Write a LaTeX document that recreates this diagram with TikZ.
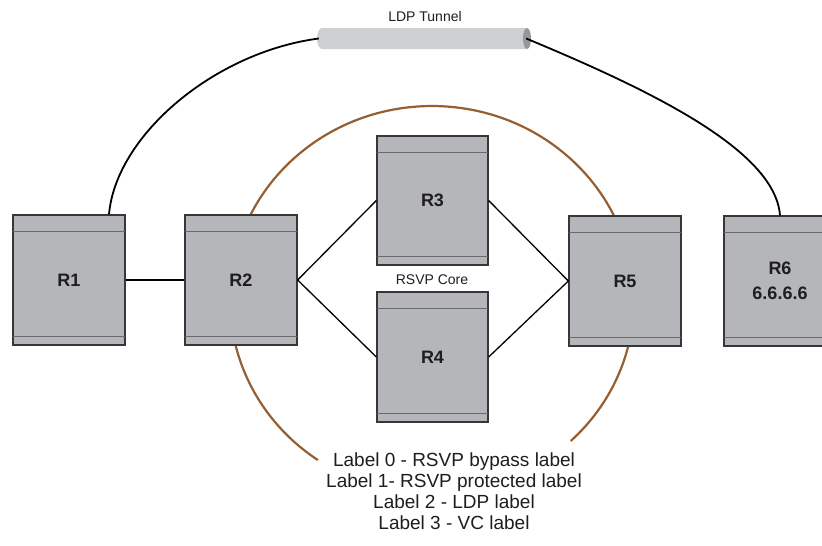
\documentclass[tikz,border=0pt]{standalone}
\usepackage{fontspec}
\setmainfont{Liberation Sans}
\definecolor{boxfill}{RGB}{180,182,186}
\definecolor{boxline}{RGB}{55,55,58}
\definecolor{bandline}{RGB}{105,106,110}
\definecolor{ringbrown}{RGB}{150,95,50}
\definecolor{tubefill}{RGB}{206,207,211}
\definecolor{tubeend}{RGB}{150,151,156}
\definecolor{txt}{RGB}{30,30,30}
\tikzset{
  router/.style={draw=boxline, fill=boxfill, line width=1.3pt,
    minimum width=112pt, minimum height=130pt, inner sep=0pt,
    font=\bfseries\fontsize{18}{25}\selectfont, text=txt, align=center},
  link/.style={draw=black, line width=1.3pt},
  tunnelline/.style={draw=black, line width=1.8pt},
  ring/.style={draw=ringbrown, line width=2.2pt},
  smalltext/.style={font=\fontsize{14}{16}\selectfont, text=txt},
  legend/.style={font=\fontsize{19}{21}\selectfont, text=txt, align=center}
}
\begin{document}
\begin{tikzpicture}[x=1pt,y=1pt]
\useasboundingbox (0,0) rectangle (822,-546);
\clip (0,0) rectangle (822,-546);
\fill[white] (0,0) rectangle (822,-546);

% brown RSVP ring (behind routers)
\draw[ring] (432,-300) ++(-46.6:202 and 194)
  arc[start angle=-46.6, end angle=235.6, x radius=202, y radius=194];

% tunnel (anchor node + drawn cylinder)
\node[minimum width=213pt, minimum height=21pt, inner sep=0pt] (tunnel) at (423.5,-38.5) {};
\fill[tubefill] (527,-28) -- (322,-28) arc[start angle=90, end angle=270, x radius=5, y radius=10.5] -- (527,-49) -- cycle;
\fill[tubeend] (527,-38.5) ellipse[x radius=4, y radius=10.5];
\node[smalltext] (ldp) at (425,-16) {LDP Tunnel};

% routers
\node[router] (R1) at (69,-280) {R1};
\node[router] (R2) at (241,-280) {R2};
\node[router, minimum width=111pt, minimum height=129pt] (R3) at (432.5,-200.5) {R3};
\node[router, minimum width=111pt, minimum height=129pt] (R4) at (432.5,-357) {R4};
\node[router] (R5) at (625,-281) {R5};
\node[router] (R6) at (780,-281) {R6\\6.6.6.6};

\foreach \r in {R1,R2,R3,R4,R5,R6}{
  \draw[bandline, line width=1pt] ([yshift=-17pt]\r.north west) -- ([yshift=-17pt]\r.north east);
  \draw[bandline, line width=1pt] ([yshift=9pt]\r.south west) -- ([yshift=9pt]\r.south east);
  \draw[boxline, line width=1.3pt] (\r.north west) rectangle (\r.south east);
}

% tunnel curves
\draw[tunnelline] ([xshift=40pt]R1.north) .. controls (116,-135) and (215,-52) .. ([xshift=2pt]tunnel.west);
\draw[tunnelline] ([xshift=-4pt]tunnel.east) .. controls (650,-90) and (775,-150) .. (R6.north);

% links
\draw[link] (R1.east) -- (R2.west);
\draw[link] (R2.east) -- (R3.west);
\draw[link] (R2.east) -- (R4.west);
\draw[link] (R3.east) -- (R5.west);
\draw[link] (R4.east) -- (R5.west);

\node[smalltext] (core) at (432,-280) {RSVP Core};

\node[legend] (leg) at (454,-491) {Label 0 - RSVP bypass label\\Label 1- RSVP protected label\\Label 2 - LDP label\\Label 3 - VC label};
\end{tikzpicture}
\end{document}
